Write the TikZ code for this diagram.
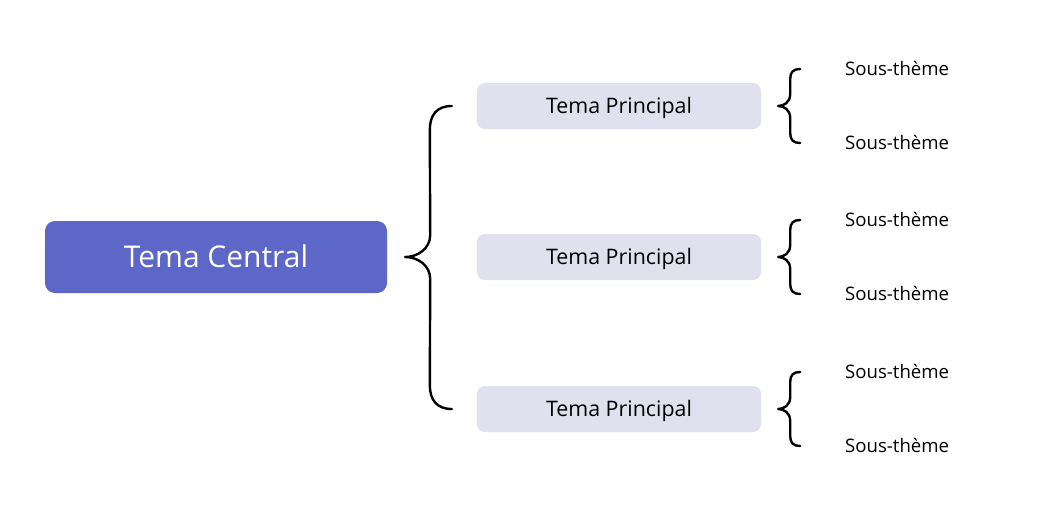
\documentclass[tikz,border=0pt]{standalone}
\usepackage{fontspec}
\setmainfont{Open Sans}
\usetikzlibrary{calc, positioning}
\definecolor{centre}{HTML}{5C67C7}
\definecolor{branche}{HTML}{E0E0EE}
\tikzstyle{central}   = [fill=centre, rounded corners=10pt, minimum width=342pt, minimum height=72pt, text=white, text height=21.4pt, text depth=0pt, font=\fontsize{30}{34}\selectfont]
\tikzstyle{principal} = [fill=branche, rounded corners=8pt, minimum width=284pt, minimum height=46pt, text height=15.3pt, text depth=0pt, font=\fontsize{21.4}{25}\selectfont]
\tikzstyle{soustheme} = [anchor=west, inner sep=0pt, text height=13.3pt, text depth=0pt, font=\fontsize{18.6}{22}\selectfont]
\tikzstyle{brace}     = [line width=2.4pt, line cap=round, line join=round]

\begin{document}
\begin{tikzpicture}[x=1pt, y=1pt]
    \useasboundingbox (0,0) rectangle (1038,-530);

    \node[central] (c) at (216,-257) {Tema Central};

    \foreach \i/\y in {1/106, 2/257, 3/409} {
        \node[principal] (p\i) at (619,-\y) {Tema Principal};
        \node[soustheme] (s\i a) at (845,{-\y+37}) {Sous-thème};
        \node[soustheme] (s\i b) at (845,{-\y-37}) {Sous-thème};
    }

    % grande accolade
    \coordinate (bt) at ($(p1.west)+(-25,0)$);
    \coordinate (bm) at ($(c.east)+(18,0)$);
    \coordinate (bb) at ($(p3.west)+(-25,0)$);
    \draw[brace] (bt) .. controls +(-15,0) and +(0,15) .. ([xshift=-22pt,yshift=-24pt]bt)
        -- ([xshift=25pt,yshift=22pt]bm) .. controls +(0,-14) and +(12,0) .. (bm)
        .. controls +(12,0) and +(0,14) .. ([xshift=25pt,yshift=-22pt]bm)
        -- ([xshift=-22pt,yshift=24pt]bb) .. controls +(0,-15) and +(-15,0) .. (bb);

    % petites accolades
    \foreach \i in {1,2,3} {
        \coordinate (t\i) at ($(p\i.east)+(17,0)$);
        \coordinate (h\i) at ($(t\i)+(22,37)$);
        \coordinate (l\i) at ($(t\i)+(22,-37)$);
        \draw[brace] (h\i) .. controls +(-7,0) and +(0,7) .. ([xshift=-10pt,yshift=-10pt]h\i)
            -- ([xshift=12pt,yshift=12pt]t\i) .. controls +(0,-8) and +(6,0) .. (t\i)
            .. controls +(6,0) and +(0,8) .. ([xshift=12pt,yshift=-12pt]t\i)
            -- ([xshift=-10pt,yshift=10pt]l\i) .. controls +(0,-7) and +(-7,0) .. (l\i);
    }
\end{tikzpicture}
\end{document}
